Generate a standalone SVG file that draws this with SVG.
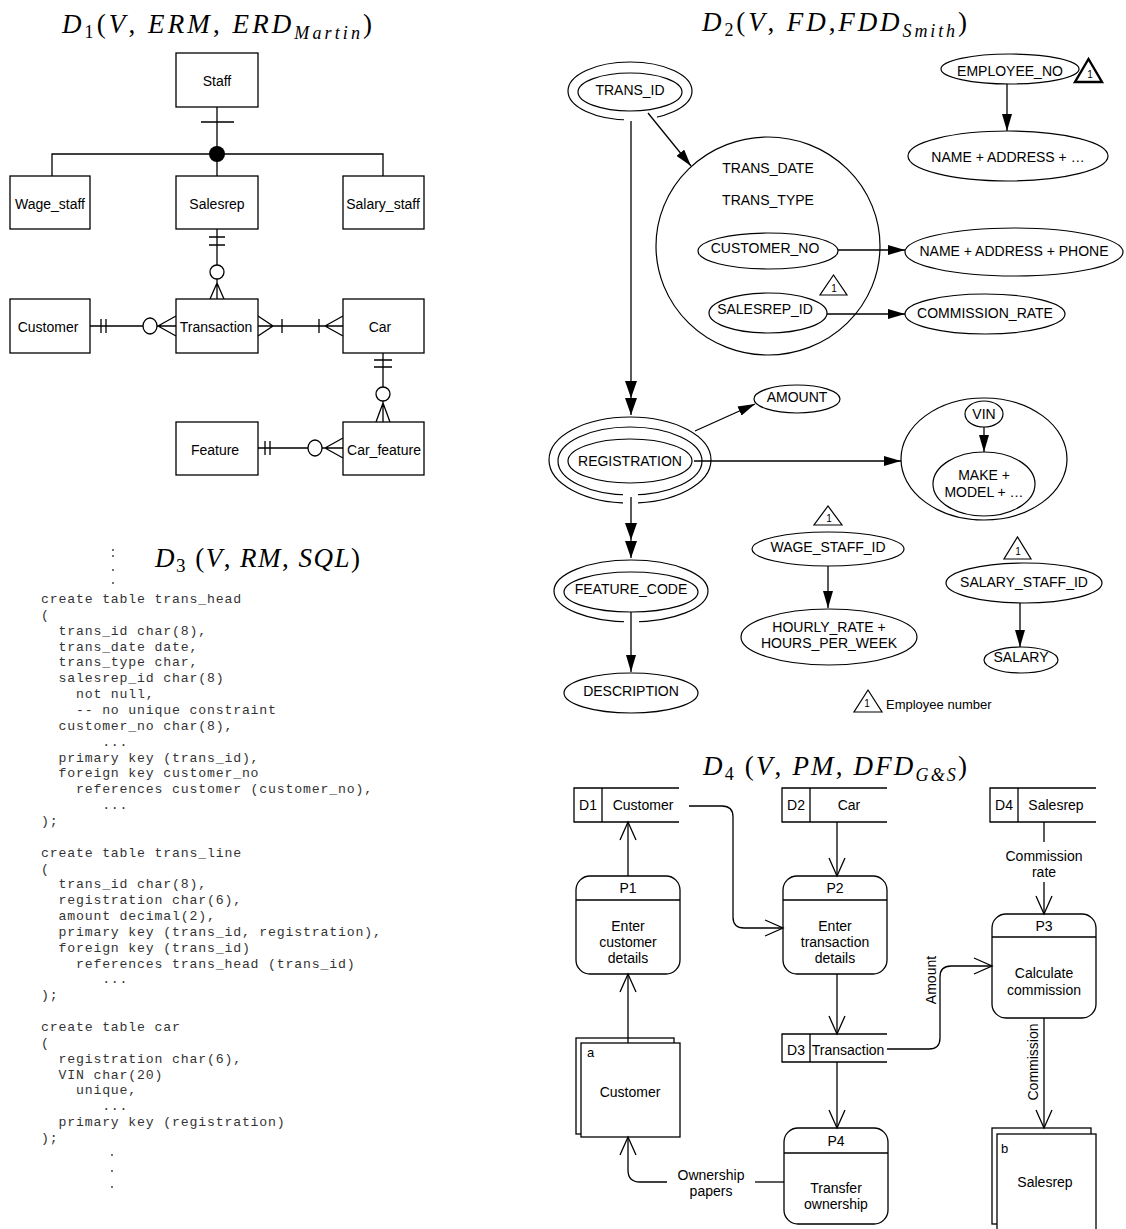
<svg xmlns="http://www.w3.org/2000/svg" width="1126" height="1229" viewBox="0 0 1126 1229">
<style>
.ln{stroke:#000;stroke-width:1.3;fill:none}
.bx{fill:#fff;stroke:#000;stroke-width:1.3}
.el{fill:none;stroke:#000;stroke-width:1.2}
.t{font-family:"Liberation Sans",Arial,sans-serif;font-size:14px;text-anchor:middle;dominant-baseline:central;fill:#000}
.ts{font-family:"Liberation Sans",Arial,sans-serif;font-size:10px;text-anchor:middle;dominant-baseline:central;fill:#000}
.sql{font-family:"Liberation Mono","Courier New",monospace;font-size:13.2px;letter-spacing:0.82px;white-space:pre;fill:#333}
.ttl{font-family:"Liberation Serif","Times New Roman",serif;font-size:27px;fill:#000}
.i{font-style:italic}
.gap{fill:#fff;stroke:none}
</style>
<defs>
<marker id="fa" viewBox="0 0 17 10" refX="17" refY="5" markerWidth="17" markerHeight="10" markerUnits="userSpaceOnUse" orient="auto"><path d="M0,0 L17,5 L0,10 z" fill="#000"/></marker>
<marker id="oa" viewBox="-1 -1 21 19" refX="18" refY="8" markerWidth="21" markerHeight="19" markerUnits="userSpaceOnUse" orient="auto"><path d="M0,0 L18,8 L0,16" fill="none" stroke="#000" stroke-width="1.3"/></marker>
</defs>

<!-- Titles -->
<g id="titles">
<text class="ttl" x="62" y="33" textLength="310"><tspan class="i">D</tspan><tspan font-size="18" dy="5">1</tspan><tspan dy="-5">(</tspan><tspan class="i">V</tspan>, <tspan class="i">ERM</tspan>, <tspan class="i">ERD</tspan><tspan class="i" font-size="18" dy="6">Martin</tspan><tspan dy="-6">)</tspan></text>
<text class="ttl" x="702" y="31" textLength="265"><tspan class="i">D</tspan><tspan font-size="18" dy="5">2</tspan><tspan dy="-5">(</tspan><tspan class="i">V</tspan>, <tspan class="i">FD</tspan>,<tspan class="i">FDD</tspan><tspan class="i" font-size="18" dy="6">Smith</tspan><tspan dy="-6">)</tspan></text>
<text class="ttl" x="155" y="567" font-size="29" textLength="205"><tspan class="i">D</tspan><tspan font-size="19" dy="5">3</tspan><tspan dy="-5"> (</tspan><tspan class="i">V</tspan>, <tspan class="i">RM</tspan>, <tspan class="i">SQL</tspan>)</text>
<text class="ttl" x="703" y="775" textLength="264"><tspan class="i">D</tspan><tspan font-size="18" dy="5">4</tspan><tspan dy="-5"> (</tspan><tspan class="i">V</tspan>, <tspan class="i">PM</tspan>, <tspan class="i">DFD</tspan><tspan class="i" font-size="18" dy="6">G&amp;S</tspan><tspan dy="-6">)</tspan></text>
</g>

<!-- ===== D1 ERD ===== -->
<g id="d1-connectors">
<path class="ln" d="M217 107 V154 M201 122 H234 M52 176 V154 H383 V176 M217 154 V176"/>
<circle cx="217" cy="154" r="8" fill="#000"/>
<path class="ln" d="M217 229 V265 M209 237 H225 M209 245 H225 M217 279 V299 M217 283 L210 299 M217 283 L224 299"/>
<ellipse class="ln" cx="217" cy="272" rx="7" ry="7"/>
<path class="ln" d="M90 326 H143 M101 319 V333 M106 319 V333 M157 326 H176 M158 326 L176 316 M158 326 L176 336"/>
<ellipse class="ln" cx="150" cy="326" rx="7" ry="8"/>
<path class="ln" d="M258 326 H343 M258 316 L273 326 L258 336 M282 319 V333 M319 319 V333 M325 326 L343 316 M325 326 L343 336"/>
<path class="ln" d="M383 353 V387 M374 360 H392 M374 367 H392 M383 401 V422 M383 403 L376 422 M383 403 L390 422"/>
<ellipse class="ln" cx="383" cy="394" rx="7" ry="7"/>
<path class="ln" d="M258 448 H308 M265 441 V455 M270 441 V455 M322 448 H343 M325 448 L343 438 M325 448 L343 458"/>
<ellipse class="ln" cx="315" cy="448" rx="7" ry="8"/>
</g>
<g id="staff"><rect class="bx" x="176" y="53" width="82" height="54"/><text class="t" x="217" y="81">Staff</text></g>
<g id="wage_staff"><rect class="bx" x="10" y="176" width="80" height="53"/><text class="t" x="50" y="204">Wage_staff</text></g>
<g id="salesrep"><rect class="bx" x="176" y="176" width="82" height="53"/><text class="t" x="217" y="204">Salesrep</text></g>
<g id="salary_staff"><rect class="bx" x="343" y="176" width="81" height="53"/><text class="t" x="383" y="204">Salary_staff</text></g>
<g id="customer"><rect class="bx" x="10" y="299" width="80" height="54"/><text class="t" x="48" y="327">Customer</text></g>
<g id="transaction"><rect class="bx" x="176" y="299" width="82" height="54"/><text class="t" x="216" y="327">Transaction</text></g>
<g id="car"><rect class="bx" x="343" y="299" width="81" height="54"/><text class="t" x="380" y="327">Car</text></g>
<g id="feature"><rect class="bx" x="176" y="422" width="82" height="53"/><text class="t" x="215" y="450">Feature</text></g>
<g id="car_feature"><rect class="bx" x="343" y="422" width="81" height="53"/><text class="t" x="384" y="450">Car_feature</text></g>

<!-- ===== D3 SQL ===== -->
<g id="d3-sql">
<circle cx="113" cy="550" r="0.9" fill="#333"/><circle cx="113" cy="556" r="0.9" fill="#333"/>
<circle cx="113" cy="570" r="0.9" fill="#333"/><circle cx="113" cy="583" r="0.9" fill="#333"/>
<text class="sql" x="41" y="603">create table trans_head</text>
<text class="sql" x="41" y="618.9">(</text>
<text class="sql" x="41" y="634.7">  trans_id char(8),</text>
<text class="sql" x="41" y="650.6">  trans_date date,</text>
<text class="sql" x="41" y="666.4">  trans_type char,</text>
<text class="sql" x="41" y="682.3">  salesrep_id char(8)</text>
<text class="sql" x="41" y="698.1">    not null,</text>
<text class="sql" x="41" y="714">    -- no unique constraint</text>
<text class="sql" x="41" y="729.8">  customer_no char(8),</text>
<text class="sql" x="41" y="745.7">       ...</text>
<text class="sql" x="41" y="761.5">  primary key (trans_id),</text>
<text class="sql" x="41" y="777.4">  foreign key customer_no</text>
<text class="sql" x="41" y="793.2">    references customer (customer_no),</text>
<text class="sql" x="41" y="809.1">       ...</text>
<text class="sql" x="41" y="824.9">);</text>
<text class="sql" x="41" y="856.6">create table trans_line</text>
<text class="sql" x="41" y="872.5">(</text>
<text class="sql" x="41" y="888.3">  trans_id char(8),</text>
<text class="sql" x="41" y="904.2">  registration char(6),</text>
<text class="sql" x="41" y="920">  amount decimal(2),</text>
<text class="sql" x="41" y="935.9">  primary key (trans_id, registration),</text>
<text class="sql" x="41" y="951.7">  foreign key (trans_id)</text>
<text class="sql" x="41" y="967.6">    references trans_head (trans_id)</text>
<text class="sql" x="41" y="983.4">       ...</text>
<text class="sql" x="41" y="999.3">);</text>
<text class="sql" x="41" y="1031">create table car</text>
<text class="sql" x="41" y="1046.8">(</text>
<text class="sql" x="41" y="1062.7">  registration char(6),</text>
<text class="sql" x="41" y="1078.5">  VIN char(20)</text>
<text class="sql" x="41" y="1094.4">    unique,</text>
<text class="sql" x="41" y="1110.2">       ...</text>
<text class="sql" x="41" y="1126.1">  primary key (registration)</text>
<text class="sql" x="41" y="1141.9">);</text>
<circle cx="112" cy="1155" r="0.9" fill="#333"/><circle cx="112" cy="1171" r="0.9" fill="#333"/><circle cx="112" cy="1187" r="0.9" fill="#333"/>
</g>

<!-- ===== D2 FDD ===== -->
<g id="trans_id"><ellipse class="el" cx="630" cy="91" rx="62" ry="29"/><rect class="gap" x="624" y="115" width="33" height="9"/><ellipse class="el" cx="630" cy="92" rx="52" ry="19"/><text class="t" x="630" y="90">TRANS_ID</text></g>
<g id="trans_head_attrs"><ellipse class="el" cx="768" cy="246" rx="112" ry="109"/><text class="t" x="768" y="168">TRANS_DATE</text><text class="t" x="768" y="200">TRANS_TYPE</text></g>
<g id="customer_no"><ellipse class="el" cx="768" cy="251" rx="70" ry="18"/><text class="t" x="765" y="248">CUSTOMER_NO</text></g>
<g id="salesrep_id"><ellipse class="el" cx="768" cy="313" rx="59" ry="20"/><text class="t" x="765" y="309">SALESREP_ID</text><path class="el" d="M820 295 H847 L833.5 275 Z"/><text class="ts" x="834" y="288">1</text></g>
<g id="employee_no"><ellipse class="el" cx="1010" cy="69" rx="69" ry="15"/><text class="t" x="1010" y="71">EMPLOYEE_NO</text><path d="M1075 82 H1102 L1088.5 59 Z" fill="none" stroke="#000" stroke-width="2.4"/><text class="ts" x="1090" y="74">1</text></g>
<g id="emp_attrs"><ellipse class="el" cx="1008" cy="156" rx="100" ry="25"/><text class="t" x="1008" y="157">NAME + ADDRESS + …</text></g>
<g id="cust_attrs"><ellipse class="el" cx="1014" cy="252" rx="109" ry="24"/><text class="t" x="1014" y="251">NAME + ADDRESS + PHONE</text></g>
<g id="commission_rate"><ellipse class="el" cx="985" cy="314" rx="80" ry="20"/><text class="t" x="985" y="313">COMMISSION_RATE</text></g>
<g id="amount"><ellipse class="el" cx="797" cy="399" rx="43" ry="14"/><text class="t" x="797" y="397">AMOUNT</text></g>
<g id="registration"><ellipse class="el" cx="630" cy="460" rx="81" ry="43"/><ellipse class="el" cx="630" cy="461" rx="72" ry="34"/><rect class="gap" x="623" y="492" width="15" height="13"/><ellipse class="el" cx="630" cy="461" rx="62" ry="22"/><text class="t" x="630" y="461">REGISTRATION</text></g>
<g id="vin_group"><ellipse class="el" cx="984" cy="459" rx="83" ry="61"/></g>
<g id="vin"><ellipse class="el" cx="984" cy="414" rx="19" ry="13"/><text class="t" x="984" y="414">VIN</text></g>
<g id="make_model"><ellipse class="el" cx="984" cy="484" rx="51" ry="32"/><text class="t" x="984" y="475">MAKE +</text><text class="t" x="984" y="492">MODEL + …</text></g>
<g id="feature_code"><ellipse class="el" cx="631" cy="591" rx="77" ry="31"/><rect class="gap" x="624" y="617" width="15" height="9"/><ellipse class="el" cx="631" cy="592" rx="67" ry="20"/><text class="t" x="631" y="589">FEATURE_CODE</text></g>
<g id="description"><ellipse class="el" cx="631" cy="693" rx="67" ry="20"/><text class="t" x="631" y="691">DESCRIPTION</text></g>
<g id="wage_staff_id"><path class="el" d="M814 525 H842 L828 506 Z"/><text class="ts" x="829" y="518">1</text><ellipse class="el" cx="828" cy="549" rx="76" ry="17"/><text class="t" x="828" y="547">WAGE_STAFF_ID</text></g>
<g id="hourly"><ellipse class="el" cx="829" cy="637" rx="88" ry="28"/><text class="t" x="829" y="627">HOURLY_RATE +</text><text class="t" x="829" y="643">HOURS_PER_WEEK</text></g>
<g id="salary_staff_id"><path class="el" d="M1004 559 H1031 L1017.5 537 Z"/><text class="ts" x="1018" y="551">1</text><ellipse class="el" cx="1024" cy="583" rx="78" ry="20"/><text class="t" x="1024" y="582">SALARY_STAFF_ID</text></g>
<g id="salary"><ellipse class="el" cx="1021" cy="660" rx="37" ry="13"/><text class="t" x="1021" y="657">SALARY</text></g>
<g id="legend"><path class="el" d="M854 712 H882 L868 690 Z"/><text class="ts" x="867" y="703">1</text><text x="886" y="704" font-family="Liberation Sans, Arial, sans-serif" font-size="13" dominant-baseline="central">Employee number</text></g>

<g id="d2-connectors">
<path class="ln" d="M631 121 V415"/>
<path d="M625 381 L637 381 L631 398 Z M625 398 L637 398 L631 415 Z" fill="#000"/>
<path class="ln" d="M631 497 V558"/>
<path d="M625 523 L637 523 L631 540 Z M625 541 L637 541 L631 558 Z" fill="#000"/>
<path class="ln" d="M631 612 V672" marker-end="url(#fa)"/>
<path class="ln" d="M648 113 L691 166" marker-end="url(#fa)"/>
<path class="ln" d="M838 250 H905" marker-end="url(#fa)"/>
<path class="ln" d="M827 314 H905" marker-end="url(#fa)"/>
<path class="ln" d="M695 431 L755 404" marker-end="url(#fa)"/>
<path class="ln" d="M694 461 H901" marker-end="url(#fa)"/>
<path class="ln" d="M984 427 V452" marker-end="url(#fa)"/>
<path class="ln" d="M1007 84 V131" marker-end="url(#fa)"/>
<path class="ln" d="M828 566 V608" marker-end="url(#fa)"/>
<path class="ln" d="M1020 603 V647" marker-end="url(#fa)"/>
</g>

<!-- ===== D4 DFD ===== -->
<g id="store_d1"><path class="ln" d="M679 788 H574 V822 H679 M602 788 V822"/><text class="t" x="588" y="805">D1</text><text class="t" x="643" y="805">Customer</text></g>
<g id="store_d2"><path class="ln" d="M887 788 H782 V822 H887 M810 788 V822"/><text class="t" x="796" y="805">D2</text><text class="t" x="849" y="805">Car</text></g>
<g id="store_d4"><path class="ln" d="M1096 788 H990 V822 H1096 M1018 788 V822"/><text class="t" x="1004" y="805">D4</text><text class="t" x="1056" y="805">Salesrep</text></g>
<g id="store_d3"><path class="ln" d="M887 1034 H782 V1062 H887 M810 1034 V1062"/><text class="t" x="796" y="1050">D3</text><text class="t" x="848" y="1050">Transaction</text></g>
<g id="p1"><rect class="bx" x="576" y="876" width="104" height="98" rx="14"/><path class="ln" d="M576 900 H680"/><text class="t" x="628" y="888">P1</text><text class="t" x="628" y="926">Enter</text><text class="t" x="628" y="942">customer</text><text class="t" x="628" y="958">details</text></g>
<g id="p2"><rect class="bx" x="783" y="876" width="104" height="98" rx="14"/><path class="ln" d="M783 900 H887"/><text class="t" x="835" y="888">P2</text><text class="t" x="835" y="926">Enter</text><text class="t" x="835" y="942">transaction</text><text class="t" x="835" y="958">details</text></g>
<g id="p3"><rect class="bx" x="992" y="914" width="104" height="104" rx="14"/><path class="ln" d="M992 937 H1096"/><text class="t" x="1044" y="926">P3</text><text class="t" x="1044" y="973">Calculate</text><text class="t" x="1044" y="990">commission</text></g>
<g id="p4"><rect class="bx" x="784" y="1128" width="104" height="96" rx="14"/><path class="ln" d="M784 1153 H888"/><text class="t" x="836" y="1141">P4</text><text class="t" x="836" y="1188">Transfer</text><text class="t" x="836" y="1204">ownership</text></g>
<g id="ext_customer"><rect class="bx" x="576" y="1038" width="98" height="96"/><rect class="bx" x="581" y="1043" width="99" height="94"/><text x="587" y="1052" font-family="Liberation Sans, Arial, sans-serif" font-size="13" dominant-baseline="central">a</text><text class="t" x="630" y="1092">Customer</text></g>
<g id="ext_salesrep"><rect class="bx" x="992" y="1128" width="99" height="96"/><rect class="bx" x="997" y="1134" width="99" height="96"/><text x="1001" y="1148" font-family="Liberation Sans, Arial, sans-serif" font-size="13" dominant-baseline="central">b</text><text class="t" x="1045" y="1182">Salesrep</text></g>

<g id="d4-connectors">
<path class="ln" d="M628 876 V822" marker-end="url(#oa)"/>
<path class="ln" d="M837 822 V876" marker-end="url(#oa)"/>
<path class="ln" d="M689 806 H722 Q733 806 733 817 V917 Q733 928 744 928 H783" marker-end="url(#oa)"/>
<path class="ln" d="M1044 822 V842"/>
<path class="ln" d="M1044 882 V914" marker-end="url(#oa)"/>
<text class="t" x="1044" y="856">Commission</text><text class="t" x="1044" y="872">rate</text>
<path class="ln" d="M837 974 V1034" marker-end="url(#oa)"/>
<path class="ln" d="M837 1062 V1128" marker-end="url(#oa)"/>
<path class="ln" d="M628 1043 V974" marker-end="url(#oa)"/>
<path class="ln" d="M784 1182 H755"/>
<path class="ln" d="M667 1182 H640 Q628 1182 628 1170 V1137" marker-end="url(#oa)"/>
<text class="t" x="711" y="1175">Ownership</text><text class="t" x="711" y="1191">papers</text>
<path class="ln" d="M887 1049 H929 Q940 1049 940 1038 V977 Q940 966 951 966 H992" marker-end="url(#oa)"/>
<text class="t" transform="translate(931 980) rotate(-90)">Amount</text>
<path class="ln" d="M1044 1018 V1128" marker-end="url(#oa)"/>
<text class="t" transform="translate(1033 1062) rotate(-90)">Commission</text>
</g>
</svg>
